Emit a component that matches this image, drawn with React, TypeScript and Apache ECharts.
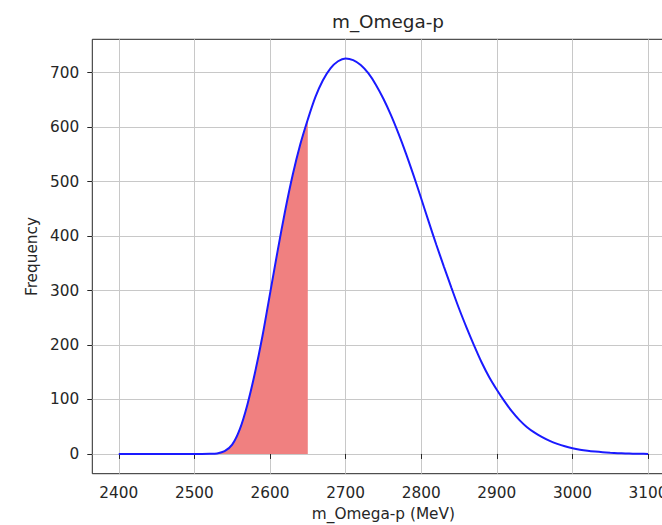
import React, { useEffect, useRef } from "react";
import * as echarts from "echarts";

const massValues = [
  2400, 2410, 2420, 2430, 2440, 2450, 2460, 2470, 2480, 2490,
  2500, 2510, 2520, 2530, 2540, 2550, 2560, 2570, 2580, 2590,
  2600, 2610, 2620, 2630, 2640, 2650, 2660, 2670, 2680, 2690,
  2700, 2710, 2720, 2730, 2740, 2750, 2760, 2770, 2780, 2790,
  2800, 2810, 2820, 2830, 2840, 2850, 2860, 2870, 2880, 2890,
  2900, 2910, 2920, 2930, 2940, 2950, 2960, 2970, 2980, 2990,
  3000, 3010, 3020, 3030, 3040, 3050, 3060, 3070, 3080, 3090,
  3100,
];

const frequencyValues = [
  0, 0, 0, 0, 0, 0, 0, 0, 0, 0,
  0, 0, 0.2, 1, 5, 17, 45, 90, 148, 216,
  294, 372, 446, 512, 568, 614, 655, 686, 708, 721,
  726, 723, 714, 699, 678, 652, 622, 588, 551, 511,
  469, 426, 384, 344, 305, 267, 232, 199, 168, 141,
  118, 97, 78, 62, 49, 39, 31, 24, 18.5, 14,
  10.5, 7.8, 5.8, 4.3, 3.1, 2.2, 1.5, 1.0, 0.6, 0.3,
  0.1,
];

const shadeUpTo = 2650;
const xTickValues = [2400, 2500, 2600, 2700, 2800, 2900, 3000, 3100];
const yTickValues = [0, 100, 200, 300, 400, 500, 600, 700];

const FONT = "DejaVu Sans";
const TEXT = "#262626";

export default function App() {
  const ref = useRef<HTMLDivElement>(null);
  useEffect(() => {
    const chart = echarts.init(ref.current!, null, { renderer: "svg" });
    const curve = massValues.map((m, i) => [m, frequencyValues[i]]);
    const shaded = curve.filter((p) => p[0] <= shadeUpTo);
    chart.setOption({
      animation: false,
      backgroundColor: "#ffffff",
      title: {
        text: "m_Omega-p",
        left: 383,
        top: 7,
        textAlign: "center",
        textStyle: { fontFamily: FONT, fontSize: 18.4, fontWeight: "normal", color: TEXT },
      },
      grid: {
        left: 92.3,
        top: 39.3,
        width: 582.2,
        height: 434.4,
        outerBoundsMode: "none",
        containLabel: false,
        show: true,
        borderColor: "#262626",
        borderWidth: 1,
        backgroundColor: "transparent",
      },
      xAxis: {
        type: "value",
        min: 2365,
        max: 3135,
        name: "m_Omega-p (MeV)",
        nameLocation: "middle",
        nameGap: 33,
        nameTextStyle: { fontFamily: FONT, fontSize: 15.3, color: TEXT },
        axisLine: { show: false },
        axisTick: { show: true, customValues: xTickValues, length: 5, lineStyle: { color: "#262626", width: 1 } },
        axisLabel: {
          customValues: xTickValues,
          margin: 12,
          fontFamily: FONT,
          fontSize: 15.3,
          color: TEXT,
          formatter: (v: number) => String(v),
        },
        splitLine: { show: true, lineStyle: { color: "#c8c8c8", width: 1 } },
      },
      yAxis: {
        type: "value",
        min: -36.25,
        max: 761.25,
        name: "Frequency",
        nameLocation: "middle",
        nameGap: 50,
        nameTextStyle: { fontFamily: FONT, fontSize: 15.3, color: TEXT },
        axisLine: { show: false },
        axisTick: { show: true, customValues: yTickValues, length: 5, lineStyle: { color: "#262626", width: 1 } },
        axisLabel: {
          customValues: yTickValues,
          margin: 13,
          fontFamily: FONT,
          fontSize: 15.3,
          color: TEXT,
          formatter: (v: number) => String(v),
        },
        splitLine: { show: true, lineStyle: { color: "#c8c8c8", width: 1 } },
      },
      series: [
        {
          type: "line",
          data: shaded,
          showSymbol: false,
          smooth: 0.3,
          lineStyle: { width: 0, opacity: 0 },
          areaStyle: { color: "#f08080", opacity: 1 },
          z: 1,
          silent: true,
        },
        {
          type: "line",
          data: curve,
          showSymbol: false,
          smooth: 0.3,
          lineStyle: { color: "#1a1aff", width: 2 },
          z: 2,
          silent: true,
        },
      ],
    });
    return () => chart.dispose();
  }, []);
  return (
    <div
      ref={ref}
      style={{ position: "fixed", left: 0, top: 0, width: 662, height: 525, background: "#fff" }}
    />
  );
}
